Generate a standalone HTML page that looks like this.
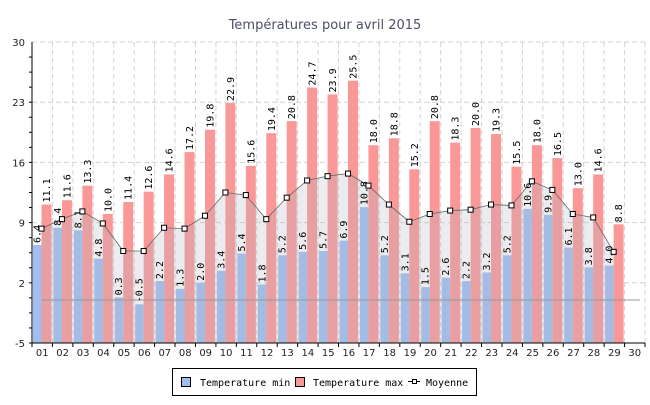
<!DOCTYPE html>
<html><head><meta charset="utf-8"><style>
body{margin:0;background:#fff;}
svg{font-family:"DejaVu Sans","Liberation Sans",sans-serif;}
</style></head><body>
<svg id="c" width="650" height="400"></svg>
<script>
const days=["01","02","03","04","05","06","07","08","09","10","11","12","13","14","15","16","17","18","19","20","21","22","23","24","25","26","27","28","29","30"];
const tmin=[6.4,8.4,8.1,4.8,0.3,-0.5,2.2,1.3,2.0,3.4,5.4,1.8,5.2,5.6,5.7,6.9,10.8,5.2,3.1,1.5,2.6,2.2,3.2,5.2,10.6,9.9,6.1,3.8,4.0];
const tmax=[11.1,11.6,13.3,10.0,11.4,12.6,14.6,17.2,19.8,22.9,15.6,19.4,20.8,24.7,23.9,25.5,18.0,18.8,15.2,20.8,18.3,20.0,19.3,15.5,18.0,16.5,13.0,14.6,8.8];
const avg=[8.3,9.4,10.3,8.9,5.7,5.7,8.4,8.3,9.8,12.5,12.2,9.4,11.9,13.9,14.4,14.7,13.3,11.1,9.1,10.0,10.4,10.5,11.1,11.0,13.8,12.8,10.0,9.6,5.6];
const yTicks=[30,23,16,9,2,-5];
const NS="http://www.w3.org/2000/svg",svg=document.getElementById('c');
const L=32,R=645,T=42,B=343,ymin=-5,ymax=30;
const sw=(R-L)/days.length;
const y=v=>B-(v-ymin)/(ymax-ymin)*(B-T);
const xs=i=>L+i*sw;
function mk(t,a,p){const e=document.createElementNS(NS,t);for(const k in a)e.setAttribute(k,a[k]);(p||svg).appendChild(e);return e;}
let e;
e=mk('text',{x:325,y:29,'text-anchor':'middle','font-size':13,fill:'#4a5068'});e.textContent='Températures pour avril 2015';


for(let i=0;i<=days.length;i++){e=mk('line',{x1:xs(i),x2:xs(i),y1:T,y2:B,stroke:'#d4d4d4','stroke-dasharray':'5,3'});

}
yTicks.forEach(v=>{e=mk('line',{x1:L,x2:R,y1:y(v),y2:y(v),stroke:'#d4d4d4','stroke-dasharray':'5,3'});


e=mk('text',{x:L-7,y:y(v)+4,'text-anchor':'end','font-size':10,fill:'#222'});e.textContent=v;


});
for(let v=ymin;v<ymax;v+=1.75){mk('line',{x1:L-3,x2:L,y1:y(v),y2:y(v),stroke:'#000'});}
tmin.forEach((v,i)=>{const x=xs(i)+1;e=mk('rect',{x:x,y:Math.min(y(v),B),width:8.5,height:Math.abs(B-y(v)),fill:'#a0bef0'});

});
tmax.forEach((v,i)=>{const x=xs(i)+9.5;e=mk('rect',{x:x,y:y(v),width:10,height:B-y(v),fill:'#fa9898'});

});
const px=i=>xs(i)+9.5;
let d='M'+px(0)+','+B;avg.forEach((v,i)=>d+=' L'+px(i)+','+y(v));d+=' L'+px(avg.length-1)+','+B+' Z';
e=mk('path',{d:d,fill:'rgba(175,180,190,0.25)'});


e=mk('polyline',{points:avg.map((v,i)=>px(i)+','+y(v)).join(' '),fill:'none',stroke:'#666','stroke-width':0.8});


e=mk('line',{x1:px(0),x2:R-5,y1:y(0),y2:y(0),stroke:'#999'});


function lab(v,cx){const yy=y(v)-2;const t=mk('text',{x:cx+3.5,y:yy,transform:`rotate(-90 ${cx+3.5} ${yy})`,'font-size':10,fill:'#000','font-family':'DejaVu Sans Mono,monospace'});t.textContent=v.toFixed(1);return t;}
tmin.forEach((v,i)=>{e=lab(v,xs(i)+5);

});
tmax.forEach((v,i)=>{e=lab(v,xs(i)+14.5);

});
avg.forEach((v,i)=>{e=mk('rect',{x:px(i)-2.5,y:y(v)-2.5,width:5,height:5,fill:'#fff',stroke:'#000','stroke-width':1});

});
mk('line',{x1:L,x2:L,y1:T,y2:B,stroke:'#000'});
mk('line',{x1:L,x2:R,y1:B,y2:B,stroke:'#000'});
days.forEach((dd,i)=>{mk('line',{x1:xs(i),x2:xs(i),y1:B,y2:B+4,stroke:'#000'});
e=mk('text',{x:xs(i)+sw/2,y:B+13,'text-anchor':'middle','font-size':10,fill:'#222'});e.textContent=dd;

});
mk('line',{x1:R,x2:R,y1:B,y2:B+4,stroke:'#000'});
const g=mk('g',{});


mk('rect',{x:172.5,y:368.5,width:304,height:27,fill:'#fff',stroke:'#000'},g);
mk('rect',{x:181.5,y:377.5,width:9,height:9,fill:'#a0bef0',stroke:'#000'},g);
e=mk('text',{x:200,y:386,'font-size':10,'font-family':'DejaVu Sans Mono,monospace'},g);e.textContent='Temperature min';


mk('rect',{x:295.5,y:377.5,width:9,height:9,fill:'#fa9898',stroke:'#000'},g);
e=mk('text',{x:313,y:386,'font-size':10,'font-family':'DejaVu Sans Mono,monospace'},g);e.textContent='Temperature max';


mk('line',{x1:408,x2:420,y1:381.5,y2:381.5,stroke:'#000'},g);
mk('rect',{x:412.5,y:379.5,width:4,height:4,fill:'#fff',stroke:'#000'},g);
e=mk('text',{x:426,y:386,'font-size':10,'font-family':'DejaVu Sans Mono,monospace'},g);e.textContent='Moyenne';


</script>
</body></html>
